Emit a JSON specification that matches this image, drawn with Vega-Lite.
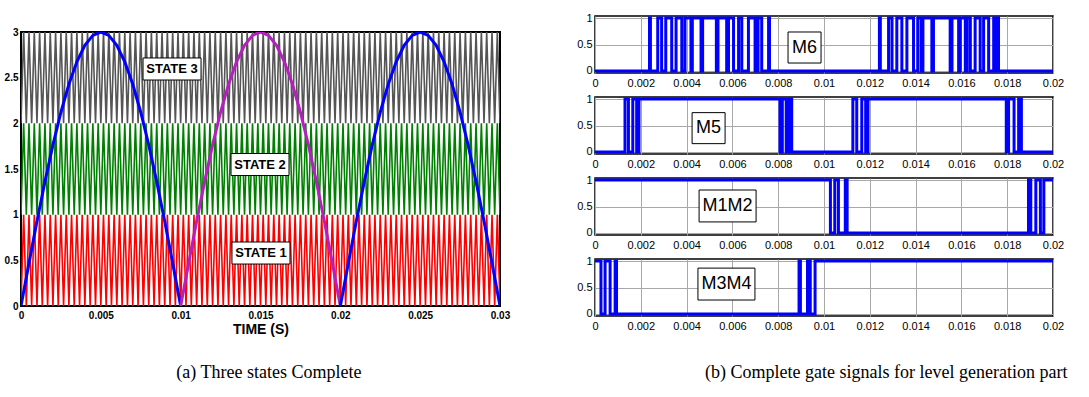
{
"$schema": "https://vega.github.io/schema/vega-lite/v6.json",
"background": "white",
"padding": {"left": 3, "top": 11, "right": 0, "bottom": 0},
"config": {
  "axis": {"ticks": false, "domain": false, "labelColor": "black", "labelFont": "'Liberation Sans Narrow', 'Liberation Sans', Arial", "labelFontSize": 11, "labelFlush": false, "labelOverlap": false, "grid": true, "gridColor": "#a8a8a8", "gridWidth": 1},
  "title": {"font": "Liberation Serif", "fontSize": 18, "fontWeight": "normal", "color": "black", "anchor": "middle"}
},
"datasets": {
  "car": [
{"t":0,"r":0,"g":1,"k":2},{"t":0.0001667,"r":1,"g":2,"k":3},{"t":0.0003333,"r":0,"g":1,"k":2},{"t":0.0005,"r":1,"g":2,"k":3},{"t":0.0006667,"r":0,"g":1,"k":2},{"t":0.0008333,"r":1,"g":2,"k":3},
{"t":0.001,"r":0,"g":1,"k":2},{"t":0.0011667,"r":1,"g":2,"k":3},{"t":0.0013333,"r":0,"g":1,"k":2},{"t":0.0015,"r":1,"g":2,"k":3},{"t":0.0016667,"r":0,"g":1,"k":2},{"t":0.0018333,"r":1,"g":2,"k":3},
{"t":0.002,"r":0,"g":1,"k":2},{"t":0.0021667,"r":1,"g":2,"k":3},{"t":0.0023333,"r":0,"g":1,"k":2},{"t":0.0025,"r":1,"g":2,"k":3},{"t":0.0026667,"r":0,"g":1,"k":2},{"t":0.0028333,"r":1,"g":2,"k":3},
{"t":0.003,"r":0,"g":1,"k":2},{"t":0.0031667,"r":1,"g":2,"k":3},{"t":0.0033333,"r":0,"g":1,"k":2},{"t":0.0035,"r":1,"g":2,"k":3},{"t":0.0036667,"r":0,"g":1,"k":2},{"t":0.0038333,"r":1,"g":2,"k":3},
{"t":0.004,"r":0,"g":1,"k":2},{"t":0.0041667,"r":1,"g":2,"k":3},{"t":0.0043333,"r":0,"g":1,"k":2},{"t":0.0045,"r":1,"g":2,"k":3},{"t":0.0046667,"r":0,"g":1,"k":2},{"t":0.0048333,"r":1,"g":2,"k":3},
{"t":0.005,"r":0,"g":1,"k":2},{"t":0.0051667,"r":1,"g":2,"k":3},{"t":0.0053333,"r":0,"g":1,"k":2},{"t":0.0055,"r":1,"g":2,"k":3},{"t":0.0056667,"r":0,"g":1,"k":2},{"t":0.0058333,"r":1,"g":2,"k":3},
{"t":0.006,"r":0,"g":1,"k":2},{"t":0.0061667,"r":1,"g":2,"k":3},{"t":0.0063333,"r":0,"g":1,"k":2},{"t":0.0065,"r":1,"g":2,"k":3},{"t":0.0066667,"r":0,"g":1,"k":2},{"t":0.0068333,"r":1,"g":2,"k":3},
{"t":0.007,"r":0,"g":1,"k":2},{"t":0.0071667,"r":1,"g":2,"k":3},{"t":0.0073333,"r":0,"g":1,"k":2},{"t":0.0075,"r":1,"g":2,"k":3},{"t":0.0076667,"r":0,"g":1,"k":2},{"t":0.0078333,"r":1,"g":2,"k":3},
{"t":0.008,"r":0,"g":1,"k":2},{"t":0.0081667,"r":1,"g":2,"k":3},{"t":0.0083333,"r":0,"g":1,"k":2},{"t":0.0085,"r":1,"g":2,"k":3},{"t":0.0086667,"r":0,"g":1,"k":2},{"t":0.0088333,"r":1,"g":2,"k":3},
{"t":0.009,"r":0,"g":1,"k":2},{"t":0.0091667,"r":1,"g":2,"k":3},{"t":0.0093333,"r":0,"g":1,"k":2},{"t":0.0095,"r":1,"g":2,"k":3},{"t":0.0096667,"r":0,"g":1,"k":2},{"t":0.0098333,"r":1,"g":2,"k":3},
{"t":0.010,"r":0,"g":1,"k":2},{"t":0.0101667,"r":1,"g":2,"k":3},{"t":0.0103333,"r":0,"g":1,"k":2},{"t":0.0105,"r":1,"g":2,"k":3},{"t":0.0106667,"r":0,"g":1,"k":2},{"t":0.0108333,"r":1,"g":2,"k":3},
{"t":0.011,"r":0,"g":1,"k":2},{"t":0.0111667,"r":1,"g":2,"k":3},{"t":0.0113333,"r":0,"g":1,"k":2},{"t":0.0115,"r":1,"g":2,"k":3},{"t":0.0116667,"r":0,"g":1,"k":2},{"t":0.0118333,"r":1,"g":2,"k":3},
{"t":0.012,"r":0,"g":1,"k":2},{"t":0.0121667,"r":1,"g":2,"k":3},{"t":0.0123333,"r":0,"g":1,"k":2},{"t":0.0125,"r":1,"g":2,"k":3},{"t":0.0126667,"r":0,"g":1,"k":2},{"t":0.0128333,"r":1,"g":2,"k":3},
{"t":0.013,"r":0,"g":1,"k":2},{"t":0.0131667,"r":1,"g":2,"k":3},{"t":0.0133333,"r":0,"g":1,"k":2},{"t":0.0135,"r":1,"g":2,"k":3},{"t":0.0136667,"r":0,"g":1,"k":2},{"t":0.0138333,"r":1,"g":2,"k":3},
{"t":0.014,"r":0,"g":1,"k":2},{"t":0.0141667,"r":1,"g":2,"k":3},{"t":0.0143333,"r":0,"g":1,"k":2},{"t":0.0145,"r":1,"g":2,"k":3},{"t":0.0146667,"r":0,"g":1,"k":2},{"t":0.0148333,"r":1,"g":2,"k":3},
{"t":0.015,"r":0,"g":1,"k":2},{"t":0.0151667,"r":1,"g":2,"k":3},{"t":0.0153333,"r":0,"g":1,"k":2},{"t":0.0155,"r":1,"g":2,"k":3},{"t":0.0156667,"r":0,"g":1,"k":2},{"t":0.0158333,"r":1,"g":2,"k":3},
{"t":0.016,"r":0,"g":1,"k":2},{"t":0.0161667,"r":1,"g":2,"k":3},{"t":0.0163333,"r":0,"g":1,"k":2},{"t":0.0165,"r":1,"g":2,"k":3},{"t":0.0166667,"r":0,"g":1,"k":2},{"t":0.0168333,"r":1,"g":2,"k":3},
{"t":0.017,"r":0,"g":1,"k":2},{"t":0.0171667,"r":1,"g":2,"k":3},{"t":0.0173333,"r":0,"g":1,"k":2},{"t":0.0175,"r":1,"g":2,"k":3},{"t":0.0176667,"r":0,"g":1,"k":2},{"t":0.0178333,"r":1,"g":2,"k":3},
{"t":0.018,"r":0,"g":1,"k":2},{"t":0.0181667,"r":1,"g":2,"k":3},{"t":0.0183333,"r":0,"g":1,"k":2},{"t":0.0185,"r":1,"g":2,"k":3},{"t":0.0186667,"r":0,"g":1,"k":2},{"t":0.0188333,"r":1,"g":2,"k":3},
{"t":0.019,"r":0,"g":1,"k":2},{"t":0.0191667,"r":1,"g":2,"k":3},{"t":0.0193333,"r":0,"g":1,"k":2},{"t":0.0195,"r":1,"g":2,"k":3},{"t":0.0196667,"r":0,"g":1,"k":2},{"t":0.0198333,"r":1,"g":2,"k":3},
{"t":0.020,"r":0,"g":1,"k":2},{"t":0.0201667,"r":1,"g":2,"k":3},{"t":0.0203333,"r":0,"g":1,"k":2},{"t":0.0205,"r":1,"g":2,"k":3},{"t":0.0206667,"r":0,"g":1,"k":2},{"t":0.0208333,"r":1,"g":2,"k":3},
{"t":0.021,"r":0,"g":1,"k":2},{"t":0.0211667,"r":1,"g":2,"k":3},{"t":0.0213333,"r":0,"g":1,"k":2},{"t":0.0215,"r":1,"g":2,"k":3},{"t":0.0216667,"r":0,"g":1,"k":2},{"t":0.0218333,"r":1,"g":2,"k":3},
{"t":0.022,"r":0,"g":1,"k":2},{"t":0.0221667,"r":1,"g":2,"k":3},{"t":0.0223333,"r":0,"g":1,"k":2},{"t":0.0225,"r":1,"g":2,"k":3},{"t":0.0226667,"r":0,"g":1,"k":2},{"t":0.0228333,"r":1,"g":2,"k":3},
{"t":0.023,"r":0,"g":1,"k":2},{"t":0.0231667,"r":1,"g":2,"k":3},{"t":0.0233333,"r":0,"g":1,"k":2},{"t":0.0235,"r":1,"g":2,"k":3},{"t":0.0236667,"r":0,"g":1,"k":2},{"t":0.0238333,"r":1,"g":2,"k":3},
{"t":0.024,"r":0,"g":1,"k":2},{"t":0.0241667,"r":1,"g":2,"k":3},{"t":0.0243333,"r":0,"g":1,"k":2},{"t":0.0245,"r":1,"g":2,"k":3},{"t":0.0246667,"r":0,"g":1,"k":2},{"t":0.0248333,"r":1,"g":2,"k":3},
{"t":0.025,"r":0,"g":1,"k":2},{"t":0.0251667,"r":1,"g":2,"k":3},{"t":0.0253333,"r":0,"g":1,"k":2},{"t":0.0255,"r":1,"g":2,"k":3},{"t":0.0256667,"r":0,"g":1,"k":2},{"t":0.0258333,"r":1,"g":2,"k":3},
{"t":0.026,"r":0,"g":1,"k":2},{"t":0.0261667,"r":1,"g":2,"k":3},{"t":0.0263333,"r":0,"g":1,"k":2},{"t":0.0265,"r":1,"g":2,"k":3},{"t":0.0266667,"r":0,"g":1,"k":2},{"t":0.0268333,"r":1,"g":2,"k":3},
{"t":0.027,"r":0,"g":1,"k":2},{"t":0.0271667,"r":1,"g":2,"k":3},{"t":0.0273333,"r":0,"g":1,"k":2},{"t":0.0275,"r":1,"g":2,"k":3},{"t":0.0276667,"r":0,"g":1,"k":2},{"t":0.0278333,"r":1,"g":2,"k":3},
{"t":0.028,"r":0,"g":1,"k":2},{"t":0.0281667,"r":1,"g":2,"k":3},{"t":0.0283333,"r":0,"g":1,"k":2},{"t":0.0285,"r":1,"g":2,"k":3},{"t":0.0286667,"r":0,"g":1,"k":2},{"t":0.0288333,"r":1,"g":2,"k":3},
{"t":0.029,"r":0,"g":1,"k":2},{"t":0.0291667,"r":1,"g":2,"k":3},{"t":0.0293333,"r":0,"g":1,"k":2},{"t":0.0295,"r":1,"g":2,"k":3},{"t":0.0296667,"r":0,"g":1,"k":2},{"t":0.0298333,"r":1,"g":2,"k":3},
{"t":0.030,"r":0,"g":1,"k":2}
  ],
  "sine": [
{"t":0,"val":0,"seg":"A"},{"t":0.0005,"val":0.4693,"seg":"A"},{"t":0.001,"val":0.9271,"seg":"A"},{"t":0.0015,"val":1.362,"seg":"A"},{"t":0.002,"val":1.7634,"seg":"A"},{"t":0.0025,"val":2.1213,"seg":"A"},{"t":0.003,"val":2.4271,"seg":"A"},{"t":0.0035,"val":2.673,"seg":"A"},{"t":0.004,"val":2.8532,"seg":"A"},{"t":0.0045,"val":2.9631,"seg":"A"},{"t":0.005,"val":3,"seg":"A"},{"t":0.0055,"val":2.9631,"seg":"A"},{"t":0.006,"val":2.8532,"seg":"A"},{"t":0.0065,"val":2.673,"seg":"A"},{"t":0.007,"val":2.4271,"seg":"A"},{"t":0.0075,"val":2.1213,"seg":"A"},{"t":0.008,"val":1.7634,"seg":"A"},{"t":0.0085,"val":1.362,"seg":"A"},{"t":0.009,"val":0.9271,"seg":"A"},{"t":0.0095,"val":0.4693,"seg":"A"},{"t":0.01,"val":0,"seg":"A"},
{"t":0.01,"val":0,"seg":"B"},{"t":0.0105,"val":0.4693,"seg":"B"},{"t":0.011,"val":0.9271,"seg":"B"},{"t":0.0115,"val":1.362,"seg":"B"},{"t":0.012,"val":1.7634,"seg":"B"},{"t":0.0125,"val":2.1213,"seg":"B"},{"t":0.013,"val":2.4271,"seg":"B"},{"t":0.0135,"val":2.673,"seg":"B"},{"t":0.014,"val":2.8532,"seg":"B"},{"t":0.0145,"val":2.9631,"seg":"B"},{"t":0.015,"val":3,"seg":"B"},{"t":0.0155,"val":2.9631,"seg":"B"},{"t":0.016,"val":2.8532,"seg":"B"},{"t":0.0165,"val":2.673,"seg":"B"},{"t":0.017,"val":2.4271,"seg":"B"},{"t":0.0175,"val":2.1213,"seg":"B"},{"t":0.018,"val":1.7634,"seg":"B"},{"t":0.0185,"val":1.362,"seg":"B"},{"t":0.019,"val":0.9271,"seg":"B"},{"t":0.0195,"val":0.4693,"seg":"B"},{"t":0.02,"val":0,"seg":"B"},
{"t":0.02,"val":0,"seg":"C"},{"t":0.0205,"val":0.4693,"seg":"C"},{"t":0.021,"val":0.9271,"seg":"C"},{"t":0.0215,"val":1.362,"seg":"C"},{"t":0.022,"val":1.7634,"seg":"C"},{"t":0.0225,"val":2.1213,"seg":"C"},{"t":0.023,"val":2.4271,"seg":"C"},{"t":0.0235,"val":2.673,"seg":"C"},{"t":0.024,"val":2.8532,"seg":"C"},{"t":0.0245,"val":2.9631,"seg":"C"},{"t":0.025,"val":3,"seg":"C"},{"t":0.0255,"val":2.9631,"seg":"C"},{"t":0.026,"val":2.8532,"seg":"C"},{"t":0.0265,"val":2.673,"seg":"C"},{"t":0.027,"val":2.4271,"seg":"C"},{"t":0.0275,"val":2.1213,"seg":"C"},{"t":0.028,"val":1.7634,"seg":"C"},{"t":0.0285,"val":1.362,"seg":"C"},{"t":0.029,"val":0.9271,"seg":"C"},{"t":0.0295,"val":0.4693,"seg":"C"},{"t":0.03,"val":0,"seg":"C"}
  ],
  "states": [
{"t":0.00946,"val":2.595,"label":"STATE 3"},{"t":0.01497,"val":1.549,"label":"STATE 2"},{"t":0.01503,"val":0.58,"label":"STATE 1"}
  ],
  "m6": [
{"t":0,"v":0},{"t":0.00238,"v":1},{"t":0.00242,"v":0},{"t":0.00274,"v":1},{"t":0.00291,"v":0},{"t":0.00309,"v":1},{"t":0.00335,"v":0},{"t":0.00354,"v":1},{"t":0.00379,"v":0},{"t":0.00393,"v":1},{"t":0.00419,"v":0},{"t":0.00425,"v":1},{"t":0.00463,"v":0},{"t":0.0047,"v":1},{"t":0.0053,"v":0},{"t":0.00537,"v":1},{"t":0.00575,"v":0},{"t":0.00583,"v":1},{"t":0.00605,"v":0},{"t":0.00627,"v":1},{"t":0.00641,"v":0},{"t":0.0067,"v":1},{"t":0.00699,"v":0},{"t":0.00712,"v":1},{"t":0.00728,"v":0},{"t":0.00758,"v":1},{"t":0.00762,"v":0},
{"t":0.01242,"v":1},{"t":0.01246,"v":0},{"t":0.01282,"v":1},{"t":0.01297,"v":0},{"t":0.01318,"v":1},{"t":0.0134,"v":0},{"t":0.01362,"v":1},{"t":0.01391,"v":0},{"t":0.0141,"v":1},{"t":0.01425,"v":0},{"t":0.01432,"v":1},{"t":0.01471,"v":0},{"t":0.01478,"v":1},{"t":0.01551,"v":0},{"t":0.01559,"v":1},{"t":0.01588,"v":0},{"t":0.01595,"v":1},{"t":0.01617,"v":0},{"t":0.01625,"v":1},{"t":0.01639,"v":0},{"t":0.0166,"v":1},{"t":0.01682,"v":0},{"t":0.01697,"v":1},{"t":0.01719,"v":0},{"t":0.01741,"v":1},{"t":0.01745,"v":0},{"t":0.01758,"v":1},{"t":0.01762,"v":0},{"t":0.02,"v":0}
  ],
  "m5": [
{"t":0,"v":0},{"t":0.00131,"v":1},{"t":0.00146,"v":0},{"t":0.00165,"v":1},{"t":0.00182,"v":0},{"t":0.00192,"v":1},{"t":0.00808,"v":0},{"t":0.00818,"v":1},{"t":0.00835,"v":0},{"t":0.00847,"v":1},{"t":0.00859,"v":0},{"t":0.01126,"v":1},{"t":0.01143,"v":0},{"t":0.01165,"v":1},{"t":0.01182,"v":0},{"t":0.01192,"v":1},{"t":0.01796,"v":0},{"t":0.01806,"v":1},{"t":0.0183,"v":0},{"t":0.0185,"v":1},{"t":0.01862,"v":0},{"t":0.02,"v":0}
  ],
  "m12": [
{"t":0,"v":1},{"t":0.01028,"v":0},{"t":0.01047,"v":1},{"t":0.01063,"v":0},{"t":0.01093,"v":1},{"t":0.01101,"v":0},{"t":0.01893,"v":1},{"t":0.01903,"v":0},{"t":0.01925,"v":1},{"t":0.01945,"v":0},{"t":0.0196,"v":1},{"t":0.02,"v":1}
  ],
  "m34": [
{"t":0,"v":1},{"t":0.00026,"v":0},{"t":0.00044,"v":1},{"t":0.00066,"v":0},{"t":0.00088,"v":1},{"t":0.00094,"v":0},{"t":0.00891,"v":1},{"t":0.00897,"v":0},{"t":0.00928,"v":1},{"t":0.0094,"v":0},{"t":0.00961,"v":1},{"t":0.02,"v":1}
  ]
},
"spacing": 64,
"hconcat": [
  {
    "title": {"text": "(a) Three states Complete", "orient": "bottom", "offset": 27, "dx": 12},
    "spacing": 15,
    "bounds": "flush",
    "vconcat": [
      {
        "width": 479, "height": 1,
        "view": {"stroke": null},
        "data": {"values": []},
        "mark": "point"
      },
      {
        "width": 479, "height": 274,
        "view": {"stroke": "black", "strokeWidth": 2},
        "encoding": {
          "x": {"field": "t", "type": "quantitative", "scale": {"domain": [0, 0.03], "nice": false, "zero": false},
                "axis": {"values": [0, 0.005, 0.01, 0.015, 0.02, 0.025, 0.03], "format": "~g", "title": "TIME (S)", "titleFont": "Liberation Sans", "titleFontSize": 14, "titleFontWeight": "bold", "titleColor": "black", "titlePadding": 2, "labelFont": "Liberation Sans", "labelFontSize": 10, "labelFontWeight": "bold", "labelPadding": 4, "grid": false}},
          "y": {"field": "val", "type": "quantitative", "scale": {"domain": [0, 3], "nice": false},
                "axis": {"values": [0, 0.5, 1, 1.5, 2, 2.5, 3], "format": "~g", "title": null, "labelFont": "Liberation Sans", "labelFontSize": 10, "labelFontWeight": "bold", "labelPadding": 3, "grid": false}}
        },
        "layer": [
          {
            "data": {"name": "car"},
            "transform": [{"fold": ["r", "g", "k"], "as": ["c", "val"]}],
            "mark": {"type": "line", "strokeWidth": 1.6, "clip": true},
            "encoding": {
              "color": {"field": "c", "type": "nominal", "scale": {"domain": ["r", "g", "k"], "range": ["#ff0000", "#008000", "#555555"]}, "legend": null}
            }
          },
          {
            "data": {"name": "sine"},
            "mark": {"type": "line", "strokeWidth": 3, "clip": true},
            "encoding": {
              "color": {"field": "seg", "type": "nominal", "scale": {"domain": ["A", "B", "C"], "range": ["#0000ff", "#b51fc0", "#0000ff"]}, "legend": null}
            }
          },
          {
            "data": {"name": "states"},
            "mark": {"type": "point", "shape": "M-1,-0.38H1V0.38H-1Z", "size": 3364, "filled": true, "fill": "white", "stroke": "black", "strokeWidth": 1, "opacity": 1}
          },
          {
            "data": {"name": "states"},
            "mark": {"type": "text", "font": "Liberation Sans", "fontSize": 13, "fontWeight": "bold", "color": "black"},
            "encoding": {"text": {"field": "label"}}
          }
        ],
        "resolve": {"scale": {"color": "independent"}}
      }
    ]
  },
  {
    "title": {"text": "(b) Complete gate signals for level generation part", "orient": "bottom", "offset": 32, "dx": 66},
    "spacing": 24,
    "bounds": "flush",
    "vconcat": [
      {
        "width": 458, "height": 57,
        "view": {"stroke": "black", "strokeWidth": 1.5},
        "encoding": {
          "x": {"field": "t", "type": "quantitative", "scale": {"domain": [0, 0.02], "nice": false}, "axis": {"values": [0, 0.002, 0.004, 0.006, 0.008, 0.01, 0.012, 0.014, 0.016, 0.018, 0.02], "format": "~g", "title": null, "labelPadding": 4}},
          "y": {"field": "v", "type": "quantitative", "scale": {"domain": [-0.04, 1.04], "nice": false}, "axis": {"values": [0, 0.5, 1], "format": "~g", "title": null, "labelPadding": 3}}
        },
        "layer": [
          {"data": {"name": "m6"}, "mark": {"type": "line", "interpolate": "step-after", "color": "#0000ff", "strokeWidth": 3}},
          {"data": {"values": [{"t": 0.00915, "v": 0.443}]}, "mark": {"type": "point", "shape": "M-1,-0.94H1V0.94H-1Z", "size": 1089, "filled": true, "fill": "white", "stroke": "black", "strokeWidth": 1, "opacity": 1}},
          {"data": {"values": [{"t": 0.00915, "v": 0.443, "label": "M6"}]}, "mark": {"type": "text", "font": "'Liberation Sans Narrow', 'Liberation Sans', Arial", "fontSize": 18, "color": "black"}, "encoding": {"text": {"field": "label"}}}
        ]
      },
      {
        "width": 458, "height": 57,
        "view": {"stroke": "black", "strokeWidth": 1.5},
        "encoding": {
          "x": {"field": "t", "type": "quantitative", "scale": {"domain": [0, 0.02], "nice": false}, "axis": {"values": [0, 0.002, 0.004, 0.006, 0.008, 0.01, 0.012, 0.014, 0.016, 0.018, 0.02], "format": "~g", "title": null, "labelPadding": 4}},
          "y": {"field": "v", "type": "quantitative", "scale": {"domain": [-0.04, 1.04], "nice": false}, "axis": {"values": [0, 0.5, 1], "format": "~g", "title": null, "labelPadding": 3}}
        },
        "layer": [
          {"data": {"name": "m5"}, "mark": {"type": "line", "interpolate": "step-after", "color": "#0000ff", "strokeWidth": 3}},
          {"data": {"values": [{"t": 0.00496, "v": 0.45}]}, "mark": {"type": "point", "shape": "M-1,-0.94H1V0.94H-1Z", "size": 1089, "filled": true, "fill": "white", "stroke": "black", "strokeWidth": 1, "opacity": 1}},
          {"data": {"values": [{"t": 0.00496, "v": 0.45, "label": "M5"}]}, "mark": {"type": "text", "font": "'Liberation Sans Narrow', 'Liberation Sans', Arial", "fontSize": 18, "color": "black"}, "encoding": {"text": {"field": "label"}}}
        ]
      },
      {
        "width": 458, "height": 57,
        "view": {"stroke": "black", "strokeWidth": 1.5},
        "encoding": {
          "x": {"field": "t", "type": "quantitative", "scale": {"domain": [0, 0.02], "nice": false}, "axis": {"values": [0, 0.002, 0.004, 0.006, 0.008, 0.01, 0.012, 0.014, 0.016, 0.018, 0.02], "format": "~g", "title": null, "labelPadding": 4}},
          "y": {"field": "v", "type": "quantitative", "scale": {"domain": [-0.04, 1.04], "nice": false}, "axis": {"values": [0, 0.5, 1], "format": "~g", "title": null, "labelPadding": 3}}
        },
        "layer": [
          {"data": {"name": "m12"}, "mark": {"type": "line", "interpolate": "step-after", "color": "#0000ff", "strokeWidth": 3}},
          {"data": {"values": [{"t": 0.00579, "v": 0.51}]}, "mark": {"type": "point", "shape": "M-1,-0.56H1V0.56H-1Z", "size": 3249, "filled": true, "fill": "white", "stroke": "black", "strokeWidth": 1, "opacity": 1}},
          {"data": {"values": [{"t": 0.00579, "v": 0.51, "label": "M1M2"}]}, "mark": {"type": "text", "font": "'Liberation Sans Narrow', 'Liberation Sans', Arial", "fontSize": 18, "color": "black"}, "encoding": {"text": {"field": "label"}}}
        ]
      },
      {
        "width": 458, "height": 57,
        "view": {"stroke": "black", "strokeWidth": 1.5},
        "encoding": {
          "x": {"field": "t", "type": "quantitative", "scale": {"domain": [0, 0.02], "nice": false}, "axis": {"values": [0, 0.002, 0.004, 0.006, 0.008, 0.01, 0.012, 0.014, 0.016, 0.018, 0.02], "format": "~g", "title": null, "labelPadding": 4}},
          "y": {"field": "v", "type": "quantitative", "scale": {"domain": [-0.04, 1.04], "nice": false}, "axis": {"values": [0, 0.5, 1], "format": "~g", "title": null, "labelPadding": 3}}
        },
        "layer": [
          {"data": {"name": "m34"}, "mark": {"type": "line", "interpolate": "step-after", "color": "#0000ff", "strokeWidth": 3}},
          {"data": {"values": [{"t": 0.00574, "v": 0.565}]}, "mark": {"type": "point", "shape": "M-1,-0.56H1V0.56H-1Z", "size": 3249, "filled": true, "fill": "white", "stroke": "black", "strokeWidth": 1, "opacity": 1}},
          {"data": {"values": [{"t": 0.00574, "v": 0.565, "label": "M3M4"}]}, "mark": {"type": "text", "font": "'Liberation Sans Narrow', 'Liberation Sans', Arial", "fontSize": 18, "color": "black"}, "encoding": {"text": {"field": "label"}}}
        ]
      }
    ]
  }
]
}
